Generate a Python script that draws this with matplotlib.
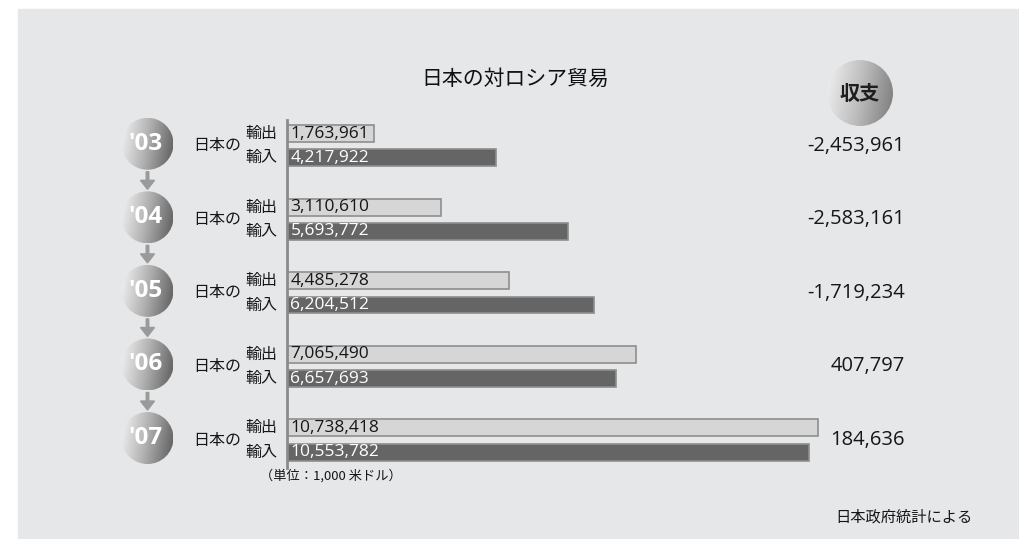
import numpy as np
import matplotlib
matplotlib.use('Agg')
import matplotlib.pyplot as plt
from matplotlib.patches import Rectangle, Circle
from matplotlib.colors import LinearSegmentedColormap
from matplotlib.transforms import blended_transform_factory

plt.rcParams['font.family'] = ['Open Sans', 'Noto Sans CJK JP', 'DejaVu Sans']
JP = ['Noto Sans CJK JP', 'DejaVu Sans']

# data (unit: 1,000 USD)
years = ["'03", "'04", "'05", "'06", "'07"]
exports = [1763961, 3110610, 4485278, 7065490, 10738418]
imports = [4217922, 5693772, 6204512, 6657693, 10553782]
balance = [-2453961, -2583161, -1719234, 407797, 184636]

title = '日本の対ロシア貿易'
unit_note = '（単位：1,000 米ドル）'
source_note = '日本政府統計による'

W, H = 1019, 539
fig = plt.figure(figsize=(W / 100, H / 100), dpi=100)
fig.patch.set_facecolor('white')

# background / decoration layer in pixel coords
bg = fig.add_axes([0, 0, 1, 1])
bg.axis('off')
bg.add_patch(Rectangle((18, 9), W - 18, H - 9, color='#e6e7e8', zorder=0))

# bar axes
ax = fig.add_axes([287 / W, (H - 468) / H, (900 - 287) / W, (468 - 120) / H])
ax.patch.set_alpha(0)
y = np.arange(len(years))
off = 0.165
ax.barh(y - off, exports, height=0.23, color='#d6d6d6', edgecolor='#8e8e8e', linewidth=1.2)
ax.barh(y + off, imports, height=0.23, color='#656565', edgecolor='#8e8e8e', linewidth=1.2)
ax.set_xlim(0, 12.4e6)
ax.set_ylim(4.38, -0.35)
for s in ['top', 'right', 'bottom']:
    ax.spines[s].set_visible(False)
ax.spines['left'].set_color('#8a8a8a')
ax.spines['left'].set_linewidth(2)
ax.set_xticks([])
ax.set_yticks([])

for i in range(len(years)):
    ax.text(70000, i - off, f'{exports[i]:,}', va='center', ha='left', fontsize=12.5, color='#161616')
    ax.text(70000, i + off, f'{imports[i]:,}', va='center', ha='left', fontsize=12.5, color='white')

# left labels and right balance, x in pixels, y in bar data
tr = blended_transform_factory(bg.transData, ax.transData)
for i in range(len(years)):
    bg.text(193, i, '日本の', transform=tr, va='center', ha='left', fontsize=11.5,
            color='#161616', family=JP)
    bg.text(245, i - off, '輸出', transform=tr, va='center', ha='left', fontsize=11.5,
            color='#161616', family=JP)
    bg.text(245, i + off, '輸入', transform=tr, va='center', ha='left', fontsize=11.5,
            color='#161616', family=JP)
    bg.text(905, i, f'{balance[i]:,}', transform=tr, va='center', ha='right', fontsize=14.5,
            color='#161616')

# gradient circles
cmap = LinearSegmentedColormap.from_list('g', ['#f6f6f6', '#b0b0b0', '#5c5c5c'])
u, v = np.meshgrid(np.linspace(0, 1, 120), np.linspace(0, 1, 120))
grad = np.clip(0.85 * u + 0.15 * v, 0, 1)

def grad_circle(cx, cy, r, cm):
    circ = Circle((cx, cy), r, facecolor='none', edgecolor='none')
    bg.add_patch(circ)
    im = bg.imshow(grad, cmap=cm, extent=(cx - r, cx + r, cy + r, cy - r),
                   origin='upper', interpolation='bilinear', zorder=2)
    im.set_clip_path(circ)

fig.canvas.draw()
centers = []
for i in range(len(years)):
    dy = ax.transData.transform((0, i))[1]
    centers.append(H - dy - 2)

for i, yr in enumerate(years):
    grad_circle(147.5, centers[i], 26, cmap)
    bg.text(145.5, centers[i], yr, ha='center', va='center', fontsize=17.5,
            fontweight='bold', color='white', zorder=3)
    if i < len(years) - 1:
        y0 = centers[i] + 28
        y1 = centers[i + 1] - 28
        bg.arrow(147.5, y0, 0, y1 - y0, width=2.5, head_width=14, head_length=9,
                 length_includes_head=True, color='#9a9a9a', zorder=2)

cmap2 = LinearSegmentedColormap.from_list('g2', ['#f2f2f2', '#bdbdbd', '#7a7a7a'])
grad_circle(860, 93, 33, cmap2)
bg.text(860, 93, '収支', ha='center', va='center', fontsize=14.5, fontweight='bold',
        color='#1e1e1e', zorder=3, family=JP)

bg.text(515, 79, title, ha='center', va='center', fontsize=15, color='#111111', family=JP)
bg.text(260, 476, unit_note, ha='left', va='center', fontsize=9.5, color='#161616', family=JP)
bg.text(973, 517, source_note, ha='right', va='center', fontsize=11, color='#161616', family=JP)

bg.set_xlim(0, W)
bg.set_ylim(H, 0)
bg.set_aspect('auto')

fig.savefig('out.png', dpi=100)
